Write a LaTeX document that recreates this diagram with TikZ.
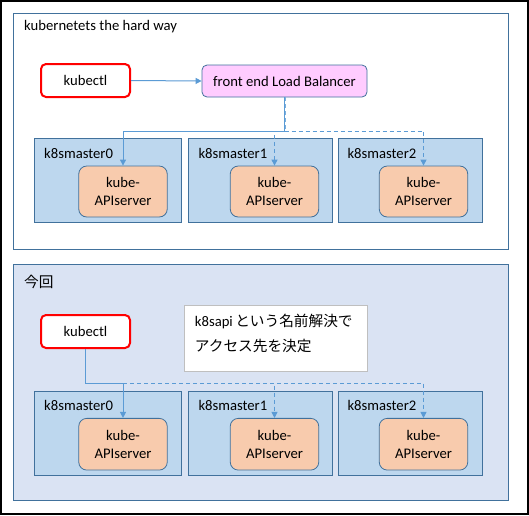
\documentclass[tikz,border=0pt]{standalone}
\usepackage{fontspec}
\setmainfont{Carlito}
\newfontfamily\jp{Noto Sans CJK JP}
\usetikzlibrary{arrows.meta}
\definecolor{bdr}{HTML}{41719C}
\definecolor{conn}{HTML}{5B9BD5}
\definecolor{mfill}{HTML}{BDD7EE}
\definecolor{afill}{HTML}{F8CBAD}
\definecolor{pfill}{HTML}{DAE3F3}
\definecolor{lbfill}{HTML}{FFCCFF}
\definecolor{notebd}{HTML}{BFBFBF}
\tikzset{
  txt/.style={font=\fontsize{14.67}{18}\selectfont},
  panel/.style={draw=bdr, line width=1pt, inner sep=0pt},
  kbox/.style={txt, draw=red, line width=2pt, fill=white, rounded corners=5pt, minimum width=89pt, minimum height=33pt, inner sep=0pt},
  lbbox/.style={txt, draw=bdr, line width=0.8pt, fill=lbfill, rounded corners=5pt, minimum width=165pt, minimum height=32pt, inner sep=0pt},
  mbox/.style={draw=bdr, line width=1pt, fill=mfill, minimum height=84pt, inner sep=0pt},
  abox/.style={txt, draw=bdr, line width=0.8pt, fill=afill, rounded corners=8pt, minimum width=88.5pt, minimum height=51pt, inner sep=0pt, align=center},
  lbl/.style={txt, anchor=west, inner sep=0pt},
  cline/.style={draw=conn, line width=1pt},
  carrow/.style={cline, -{Triangle[width=6pt,length=6pt]}},
  cdash/.style={carrow, dash pattern=on 4pt off 3pt},
}
\begin{document}
\begin{tikzpicture}[x=1pt,y=-1pt]
\useasboundingbox (0,0) rectangle (529,515);
\draw[black, line width=2pt] (1,1) rectangle (528,514);
% top panel
\node[panel, fill=white, minimum width=494.7pt, minimum height=236pt] (p1) at (261.3,131.3) {};
\node[lbl] (t1) at (24,27) {kubernetets the hard way};
\node[kbox] (k1) at (85.5,80.5) {kubectl};
\node[lbbox] (lb) at (284.5,81) {front end Load Balancer};
\node[mbox, minimum width=147pt] (m10) at (107.5,180) {};
\node[mbox, minimum width=144pt] (m11) at (260,180) {};
\node[mbox, minimum width=144pt] (m12) at (410,180) {};
\node[lbl] (l10) at (44,153) {k8smaster0};
\node[lbl] (l11) at (198.3,153) {k8smaster1};
\node[lbl] (l12) at (347.3,153) {k8smaster2};
\node[abox] (a10) at (123,191.5) {kube-\\APIserver};
\node[abox] (a11) at (274.5,191.5) {kube-\\APIserver};
\node[abox] (a12) at (423.5,191.5) {kube-\\APIserver};
\coordinate (jt) at (284.5,131);
\draw[carrow] (k1.east) -- (lb.west);
\draw[cdash] (jt) -| (a12.north);
\draw[cdash] (jt) -| (a11.north);
\draw[cline, dash pattern=on 4pt off 3pt, line width=2pt, draw=conn!80] (lb.south) -- (jt);
\draw[carrow] (lb.south) -- (jt) -| (a10.north);
% bottom panel
\node[panel, fill=pfill, minimum width=494.7pt, minimum height=236pt] (p2) at (261.3,382.3) {};
\node[lbl, font=\jp\fontsize{14.67}{18}\selectfont] (t2) at (24,281.7) {今回};
\node[kbox] (k2) at (85.5,331.5) {kubectl};
\node[draw=notebd, line width=1pt, fill=white, minimum width=183pt, minimum height=65.6pt, inner sep=0pt] (note) at (275.5,338.5) {};
\node[lbl] (n1) at (194.7,321.7) {k8sapi\,{\jp という名前解決で}};
\node[lbl, font=\jp\fontsize{14.67}{18}\selectfont] (n2) at (194.7,345.7) {アクセス先を決定};
\node[mbox, minimum width=147pt, minimum height=84.3pt] (m20) at (107.5,433.2) {};
\node[mbox, minimum width=144pt, minimum height=84.3pt] (m21) at (260,433.2) {};
\node[mbox, minimum width=144pt, minimum height=84.3pt] (m22) at (410,433.2) {};
\node[lbl] (l20) at (44,405.7) {k8smaster0};
\node[lbl] (l21) at (198.3,405.7) {k8smaster1};
\node[lbl] (l22) at (347.3,405.7) {k8smaster2};
\node[abox, minimum height=51.7pt] (a20) at (123,444.2) {kube-\\APIserver};
\node[abox, minimum height=51.7pt] (a21) at (274.5,444.2) {kube-\\APIserver};
\node[abox, minimum height=51.7pt] (a22) at (423.5,444.2) {kube-\\APIserver};
\coordinate (jb) at (123,383);
\draw[cdash] (jb) -| (a22.north);
\draw[cdash] (jb) -| (a21.north);
\draw[carrow] (k2.south) |- (jb) -- (a20.north);
\end{tikzpicture}
\end{document}
